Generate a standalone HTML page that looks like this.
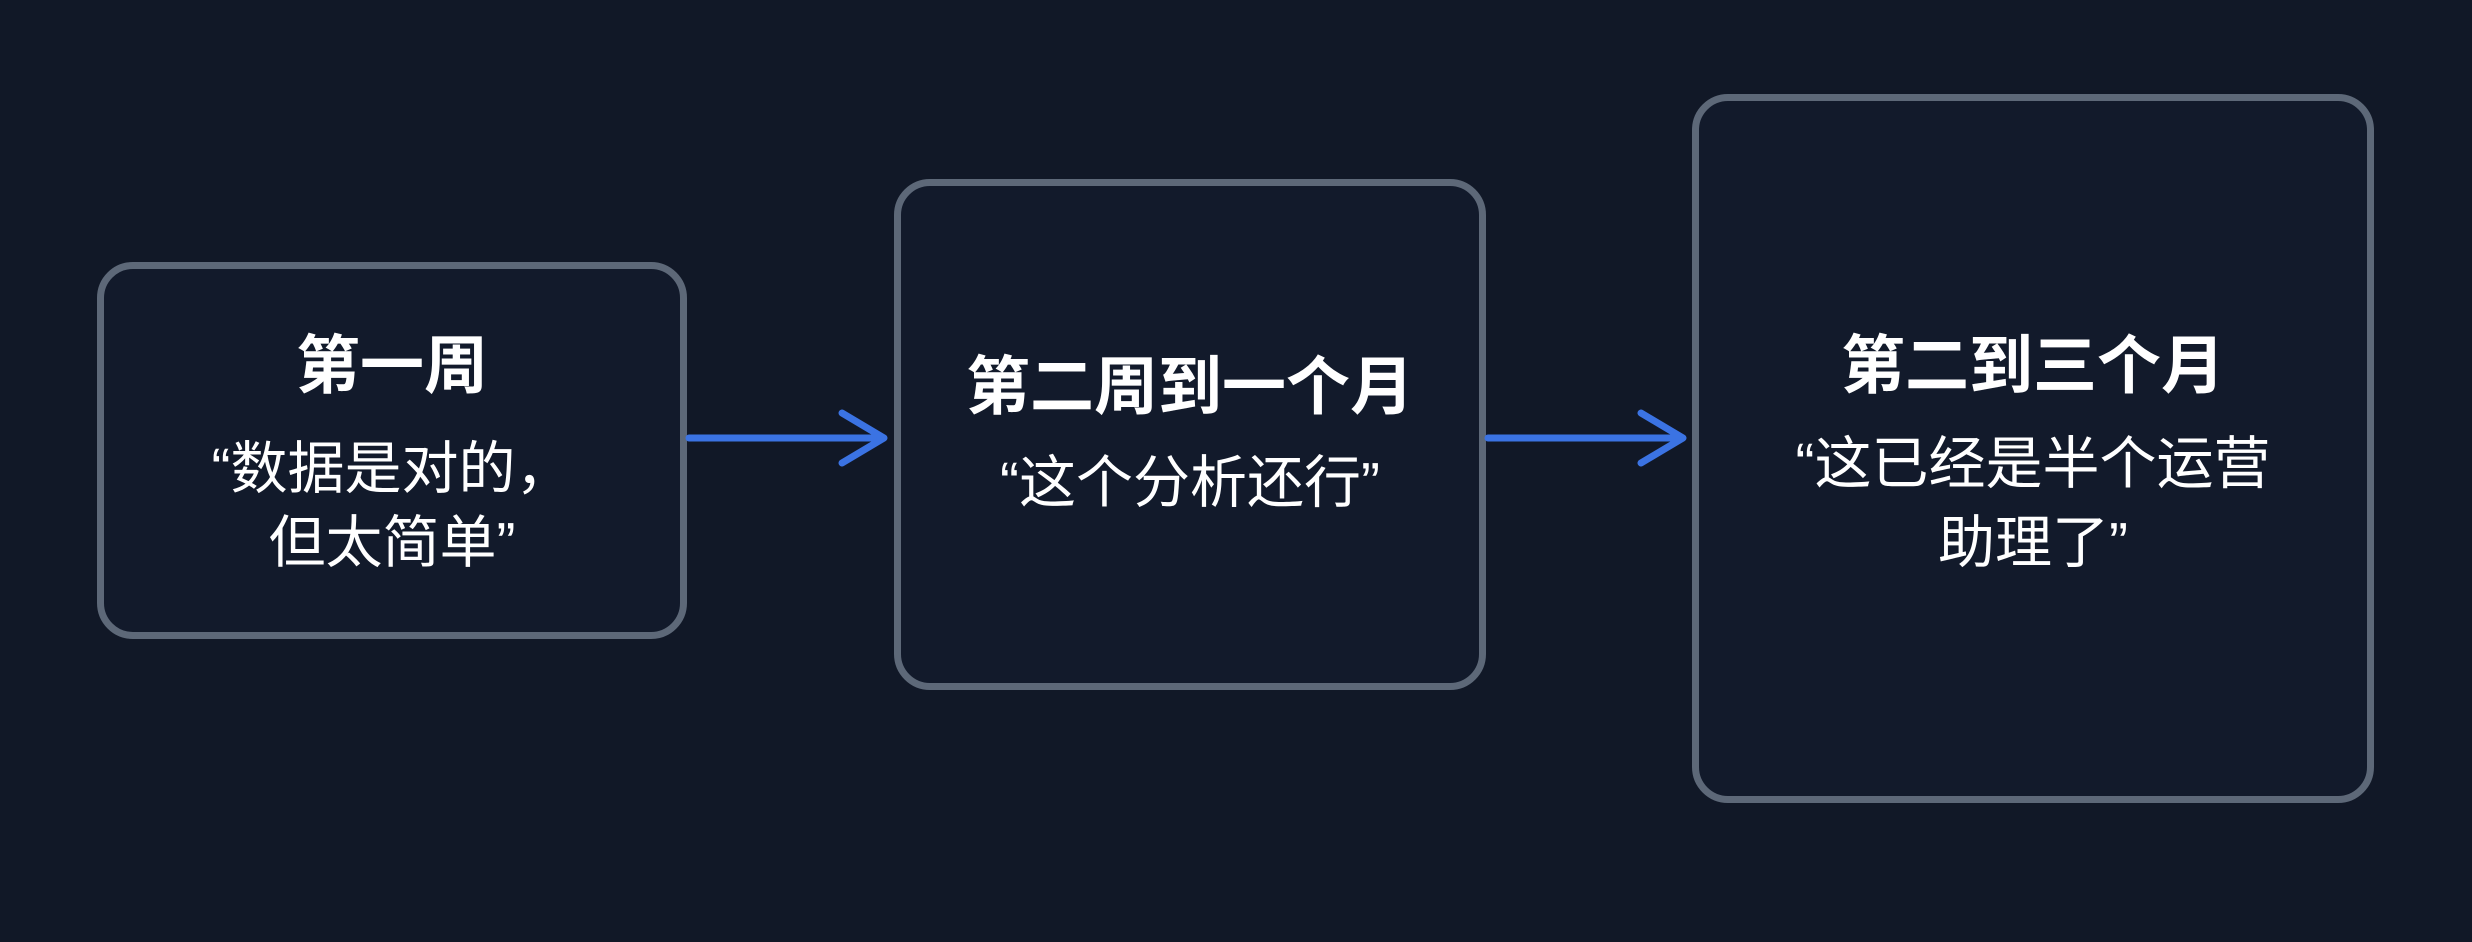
<!DOCTYPE html>
<html><head><meta charset="utf-8"><style>
html,body{margin:0;padding:0;background:#111827;}
body{width:2472px;height:942px;position:relative;overflow:hidden;font-family:"Liberation Sans","Noto Sans CJK SC",sans-serif;color:#fff;}
.box{position:absolute;box-sizing:border-box;border:7px solid #5d6878;border-radius:36px;background:#121a2b;}
.t{position:absolute;left:0;right:0;text-align:center;white-space:nowrap;line-height:1;}
.h{font-weight:bold;font-size:64px;}
.s{font-size:57px;}
</style></head><body>
<div class="box" style="left:97px;top:262px;width:590px;height:377px;"></div>
<div class="box" style="left:894px;top:179px;width:592px;height:511px;"></div>
<div class="box" style="left:1692px;top:94px;width:682px;height:709px;"></div>

<div class="t h" style="left:97px;width:590px;top:334px;">第一周</div>
<div class="t s" style="left:97px;width:590px;top:441px;">“数据是对的，</div>
<div class="t s" style="left:97px;width:590px;top:515px;">但太简单”</div>

<div class="t h" style="left:894px;width:592px;top:355px;">第二周到一个月</div>
<div class="t s" style="left:894px;width:592px;top:455px;">“这个分析还行”</div>

<div class="t h" style="left:1692px;width:682px;top:334px;">第二到三个月</div>
<div class="t s" style="left:1692px;width:682px;top:436px;">“这已经是半个运营</div>
<div class="t s" style="left:1692px;width:682px;top:515px;">助理了”</div>

<svg width="2472" height="942" style="position:absolute;left:0;top:0">
<g stroke="#3b73e3" stroke-width="7" fill="none" stroke-linecap="round" stroke-linejoin="round">
<line x1="689" y1="438" x2="882" y2="438"/>
<polyline points="842,413 884,438 842,463"/>
<line x1="1488" y1="438" x2="1681" y2="438"/>
<polyline points="1641,413 1683,438 1641,463"/>
</g></svg>
</body></html>
